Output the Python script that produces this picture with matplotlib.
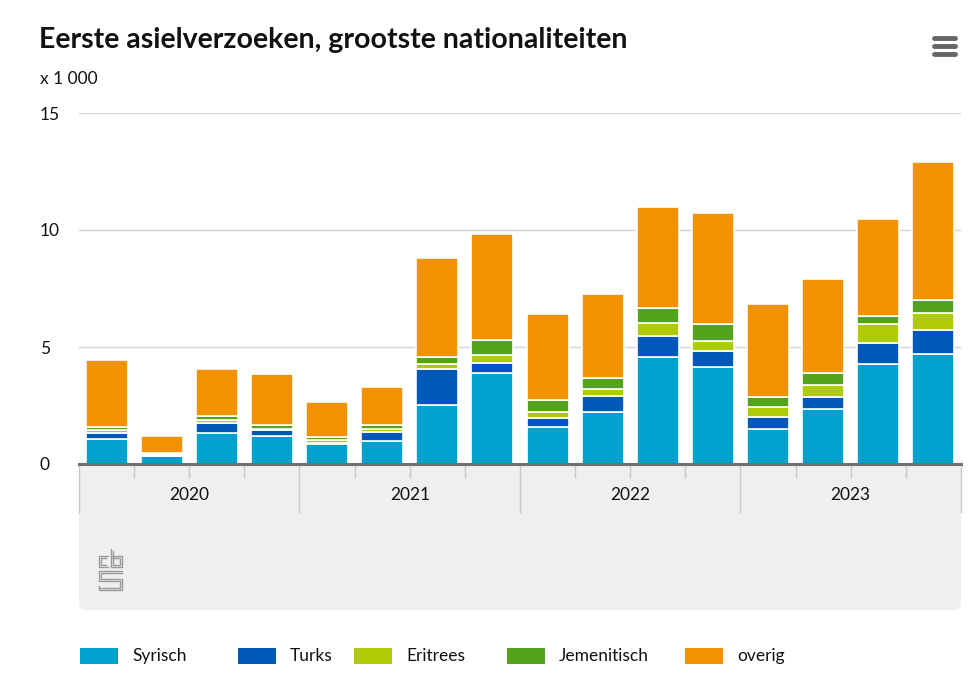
import matplotlib
matplotlib.use("Agg")
import matplotlib.pyplot as plt
import numpy as np
from matplotlib.patches import FancyBboxPatch, Rectangle

plt.rcParams['font.family'] = ['Lato', 'DejaVu Sans']

# data (x 1 000), per quarter 2020 Q1 .. 2023 Q4
quarters = ['2020 Q1', '2020 Q2', '2020 Q3', '2020 Q4',
            '2021 Q1', '2021 Q2', '2021 Q3', '2021 Q4',
            '2022 Q1', '2022 Q2', '2022 Q3', '2022 Q4',
            '2023 Q1', '2023 Q2', '2023 Q3', '2023 Q4']
years = ['2020', '2021', '2022', '2023']
syrisch = [1.07, 0.34, 1.32, 1.18, 0.84, 0.98, 2.54, 3.90,
           1.60, 2.22, 4.59, 4.16, 1.51, 2.36, 4.27, 4.70]
turks = [0.25, 0.05, 0.43, 0.26, 0.05, 0.37, 1.52, 0.42,
         0.35, 0.69, 0.89, 0.68, 0.49, 0.49, 0.89, 1.03]
eritrees = [0.12, 0.05, 0.13, 0.07, 0.12, 0.13, 0.21, 0.33,
            0.27, 0.28, 0.53, 0.40, 0.42, 0.53, 0.81, 0.74]
jemenitisch = [0.13, 0.05, 0.16, 0.16, 0.14, 0.20, 0.30, 0.65,
               0.52, 0.50, 0.64, 0.73, 0.43, 0.49, 0.37, 0.54]
overig = [2.87, 0.71, 2.02, 2.19, 1.50, 1.61, 4.23, 4.51,
          3.67, 3.56, 4.32, 4.74, 4.00, 4.02, 4.12, 5.88]

series = [('Syrisch', syrisch, '#00a1cd'),
          ('Turks', turks, '#0058b8'),
          ('Eritrees', eritrees, '#afcb05'),
          ('Jemenitisch', jemenitisch, '#53a31d'),
          ('overig', overig, '#f39200')]

W, H = 978, 677
fig = plt.figure(figsize=(W / 100, H / 100), dpi=100)

# decoration layer in pixel coordinates
deco = fig.add_axes([0, 0, 1, 1], zorder=0)
deco.set_xlim(0, W)
deco.set_ylim(H, 0)
deco.axis('off')

x0, x1, y0, y1 = 79, 961, 464, 113
ax = fig.add_axes([x0 / W, 1 - y0 / H, (x1 - x0) / W, (y0 - y1) / H], zorder=2)
ax.patch.set_visible(False)

# category panel under the plot
deco.add_patch(FancyBboxPatch((x0 + 7, y0 + 7), x1 - x0 - 14, 610 - y0 - 14,
                              boxstyle='round,pad=7', fc='#efefef', ec='none'))
deco.add_patch(Rectangle((x0, y0), x1 - x0, 20, fc='#efefef', ec='none'))

x = np.arange(len(quarters))
bottom = np.zeros(len(quarters))
for name, vals, col in series:
    ax.bar(x, vals, 0.76, bottom=bottom, color=col, edgecolor='white',
           linewidth=1.2, label=name, zorder=3)
    bottom += np.array(vals)

ax.set_xlim(-0.5, len(quarters) - 0.5)
ax.set_ylim(0, 15)
ax.set_yticks([0, 5, 10, 15])
ax.grid(axis='y', color='#d6d6d6', linewidth=1)
for s in ['top', 'right', 'left']:
    ax.spines[s].set_visible(False)
ax.spines['bottom'].set_color('#707070')
ax.spines['bottom'].set_linewidth(2.2)
ax.spines['bottom'].set_zorder(4)
ax.tick_params(axis='y', length=0, pad=0, labelsize=12.5, colors='#111111')
for lab in ax.get_yticklabels():
    lab.set_horizontalalignment('left')
    lab.set_x(-39 / (x1 - x0))
ax.set_xticks([])

# quarter ticks and year separators
tr = ax.get_xaxis_transform()
ph = y0 - y1
ax.vlines([i - 0.5 for i in range(1, 16) if i % 4 != 0], -14 / ph, 0,
          transform=tr, color='#c8c8c8', lw=1, clip_on=False)
ax.vlines([-0.5, 3.5, 7.5, 11.5, 15.5], -49 / ph, 0,
          transform=tr, color='#c8c8c8', lw=1, clip_on=False)
for i, yr in enumerate(years):
    ax.text(4 * i + 1.5, -31 / ph, yr, transform=tr, ha='center',
            va='center', fontsize=12.5, color='#111111')

# title and unit
deco.text(39, 40, 'Eerste asielverzoeken, grootste nationaliteiten',
          fontsize=20.5, fontweight='bold', va='center', ha='left', color='#111111')
deco.text(40, 79, 'x 1 000', fontsize=12.5, va='center', ha='left', color='#111111')

# menu icon
for yy in [38, 46, 54]:
    deco.plot([934, 955], [yy, yy], color='#666666', lw=3.5,
              solid_capstyle='round')

# cbs logo (rough outline)
lg = '#9a9a9a'
deco.plot([108, 99, 99, 108], [556, 556, 567, 567], color=lg, lw=1)
deco.plot([106, 101, 101, 106], [558, 558, 565, 565], color=lg, lw=1)
deco.plot([111, 111, 122, 122, 111], [549, 567, 567, 556, 556], color=lg, lw=1)
deco.plot([113, 113, 120, 120, 113], [551, 565, 565, 558, 558], color=lg, lw=1)
deco.plot([122, 99, 99, 120, 120, 99], [571, 571, 581, 581, 588, 588], color=lg, lw=1)
deco.plot([122, 101, 101, 122, 122, 99, 99], [573, 573, 579, 579, 590, 590, 586], color=lg, lw=1)

# legend
leg_x = [80, 238, 354, 507, 685]
for (name, vals, col), lx in zip(series, leg_x):
    deco.add_patch(Rectangle((lx, 648), 38, 16, fc=col, ec='none'))
    deco.text(lx + 52, 656, name, fontsize=12.5, va='center', ha='left',
              color='#111111')

fig.savefig('out.png', dpi=100)
